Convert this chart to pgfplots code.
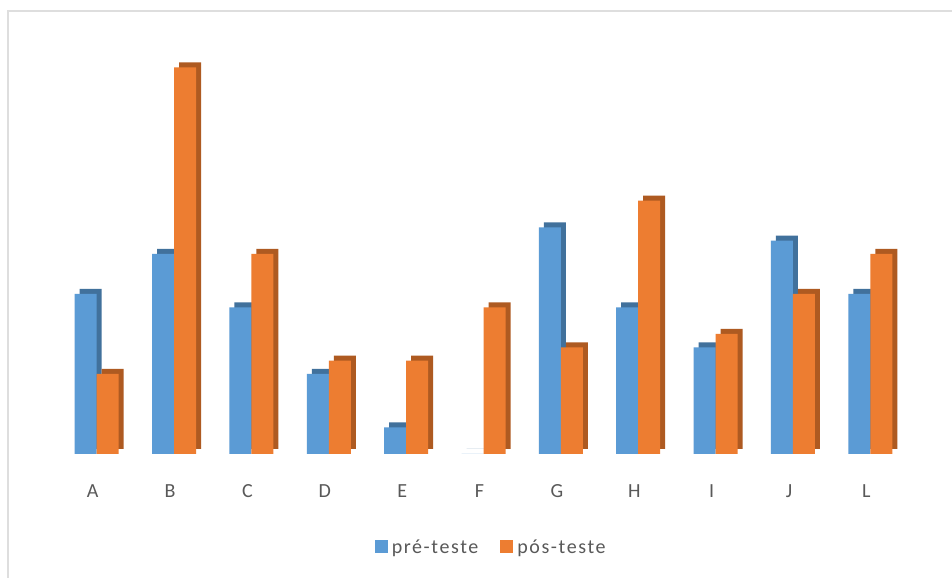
\documentclass[border=0pt]{standalone}
\usepackage{pgfplots}
\pgfplotsset{compat=1.18}
\usepackage{fontspec}
\setmainfont{Carlito}
\newfontfamily\wide[LetterSpace=8]{Carlito}
\definecolor{fblue}{HTML}{5B9BD5}
\definecolor{sblue}{HTML}{41719C}
\definecolor{forange}{HTML}{ED7D31}
\definecolor{sorange}{HTML}{AE5A21}
\definecolor{txt}{HTML}{595959}
\begin{document}
\begin{tikzpicture}
\useasboundingbox (0,0) rectangle (952bp,578bp);
\fill[white] (0,0) rectangle (952bp,578bp);
\draw[color=black!13, line width=1.5bp] (8bp,0) -- (8bp,567bp) -- (952bp,567bp);
\begin{axis}[
  at={(58bp,124bp)}, anchor=south west,
  scale only axis, width=851bp, height=400bp,
  xmin=-0.5, xmax=10.5, ymin=0, ymax=30,
  axis line style={draw=none},
  ytick=\empty,
  xtick={0,...,10},
  xticklabels={A,B,C,D,E,F,G,H,I,J,L},
  major tick length=0pt,
  xticklabel style={anchor=center, yshift=-37bp, xshift=-4bp, font=\wide\fontsize{20bp}{22bp}\selectfont, text=txt},
  clip=false,
  legend columns=2,
  legend style={at={(0.509,-0.2325)}, anchor=center, draw=none, fill=none,
    font=\wide\fontsize{20bp}{22bp}\selectfont, text=txt,
    /tikz/every even column/.append style={column sep=20bp},
    /tikz/every odd column/.append style={column sep=2bp}},
  legend image code/.code={\fill[#1] (0bp,-6bp) rectangle (13bp,7bp);},
]
\addplot[ybar, bar width=22bp, bar shift=-11bp, fill=sblue, draw=none, xshift=5bp, yshift=5bp, forget plot]
  coordinates {(0,12) (1,15) (2,11) (3,6) (4,2) (5,0) (6,17) (7,11) (8,8) (9,16) (10,12)};
\addplot[ybar, bar width=22bp, bar shift=-11bp, fill=fblue, draw=none]
  coordinates {(0,12) (1,15) (2,11) (3,6) (4,2) (5,0) (6,17) (7,11) (8,8) (9,16) (10,12)};
\addlegendentry{pré-teste}
\addplot[ybar, bar width=22bp, bar shift=11bp, fill=sorange, draw=none, xshift=5bp, yshift=5bp, forget plot]
  coordinates {(0,6) (1,29) (2,15) (3,7) (4,7) (5,11) (6,8) (7,19) (8,9) (9,12) (10,15)};
\addplot[ybar, bar width=22bp, bar shift=11bp, fill=forange, draw=none]
  coordinates {(0,6) (1,29) (2,15) (3,7) (4,7) (5,11) (6,8) (7,19) (8,9) (9,12) (10,15)};
\addlegendentry{pós-teste}
\end{axis}
\end{tikzpicture}
\end{document}
